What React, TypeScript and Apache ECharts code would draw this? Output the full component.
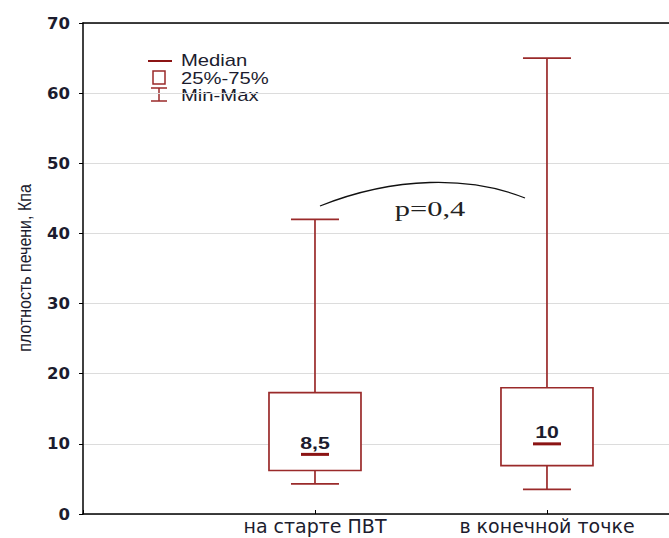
import React, { useEffect, useRef } from "react";
import * as echarts from "echarts";

// Liver stiffness (kPa): min, Q1, median, Q3, max per time point
const categories = ["на старте ПВТ", "в конечной точке"];
const positions = [1, 2];
const minValues = [4.3, 3.5];
const q1Values = [6.2, 6.9];
const medianValues = [8.5, 10];
const q3Values = [17.3, 18];
const maxValues = [42, 65];
const medianLabels = ["8,5", "10"];
const yTicks = [0, 10, 20, 30, 40, 50, 60, 70];
const pValueText = "p=0,4";
const yAxisTitle = "плотность печени, Кпа";
const legendLabels = ["Median", "25%-75%", "Min-Max"];

const BOX = "#9a2a2a";
const MEDIAN = "#8b1414";
const TEXT = "#1c1c2e";
const SANS = "'Liberation Sans', Arial, sans-serif";

export default function App() {
  const ref = useRef<HTMLDivElement>(null);

  useEffect(() => {
    document.body.style.margin = "0";
    if (!ref.current) return;
    const chart = echarts.init(ref.current, undefined, { renderer: "svg" });

    const data = positions.map((p, i) => [
      p,
      minValues[i],
      q1Values[i],
      medianValues[i],
      q3Values[i],
      maxValues[i],
      i,
    ]);

    const renderItem = (params: any, api: any) => {
      const x = api.value(0);
      const idx = api.value(6);
      const pMin = api.coord([x, api.value(1)]);
      const pQ1 = api.coord([x, api.value(2)]);
      const pMed = api.coord([x, api.value(3)]);
      const pQ3 = api.coord([x, api.value(4)]);
      const pMax = api.coord([x, api.value(5)]);
      const cx = pMed[0];
      const boxW = 92;
      const capW = 48;
      const medW = 28;
      const lineStyle = { stroke: BOX, lineWidth: 1.7, fill: "none" };
      return {
        type: "group",
        children: [
          { type: "line", shape: { x1: cx, y1: pMax[1], x2: cx, y2: pQ3[1] }, style: lineStyle },
          { type: "line", shape: { x1: cx, y1: pQ1[1], x2: cx, y2: pMin[1] }, style: lineStyle },
          { type: "line", shape: { x1: cx - capW / 2, y1: pMax[1], x2: cx + capW / 2, y2: pMax[1] }, style: lineStyle },
          { type: "line", shape: { x1: cx - capW / 2, y1: pMin[1], x2: cx + capW / 2, y2: pMin[1] }, style: lineStyle },
          {
            type: "rect",
            shape: { x: cx - boxW / 2, y: pQ3[1], width: boxW, height: pQ1[1] - pQ3[1] },
            style: { stroke: BOX, lineWidth: 1.7, fill: "#ffffff" },
          },
          {
            type: "line",
            shape: { x1: cx - medW / 2, y1: pMed[1], x2: cx + medW / 2, y2: pMed[1] },
            style: { stroke: MEDIAN, lineWidth: 3, fill: "none" },
          },
          {
            type: "text",
            x: cx,
            y: pMed[1] - 3,
            scaleX: 1.25,
            style: {
              x: 0,
              y: 0,
              text: medianLabels[idx],
              align: "center",
              verticalAlign: "bottom",
              font: `bold 17px ${SANS}`,
              fill: TEXT,
            },
          },
        ],
      };
    };

    const legendText = (label: string, y: number) => ({
      type: "text",
      x: 181,
      y,
      scaleX: 1.19,
      style: { x: 0, y: 0, text: label, verticalAlign: "middle", font: `17px ${SANS}`, fill: TEXT },
    });

    const option: any = {
      animation: false,
      grid: { left: 83, top: 23, right: 0, bottom: 24 },
      xAxis: [
        {
          type: "value",
          min: 0,
          max: 2.526,
          interval: 1,
          axisLine: { show: true, onZero: false, lineStyle: { color: "#000", width: 1.5 } },
          axisTick: { show: true, inside: true, length: 4, lineStyle: { color: "#000" } },
          splitLine: { show: false },
          axisLabel: {
            showMaxLabel: false,
            margin: 2,
            color: TEXT,
            fontSize: 19,
            fontFamily: "'DejaVu Sans', sans-serif",
            formatter: (v: number) => {
              const i = positions.findIndex((p) => Math.abs(v - p) < 1e-6);
              return i >= 0 ? categories[i] : "";
            },
          },
        },
        {
          type: "value",
          position: "top",
          min: 0,
          max: 2.526,
          axisLine: { show: true, onZero: false, lineStyle: { color: "#000", width: 1.5 } },
          axisTick: { show: false },
          axisLabel: { show: false },
          splitLine: { show: false },
        },
      ],
      yAxis: {
        type: "value",
        min: 0,
        max: 70,
        interval: 10,
        axisLine: { show: true, lineStyle: { color: "#000", width: 1.5 } },
        axisTick: { show: true, length: 4, lineStyle: { color: "#000" } },
        splitLine: { show: true, lineStyle: { color: "#dcdcdc", width: 1 } },
        axisLabel: {
          margin: 13,
          color: TEXT,
          fontSize: 16.5,
          fontWeight: "bold",
          fontFamily: "'DejaVu Sans', sans-serif",
          formatter: (v: number) => (yTicks.includes(v) ? String(v) : ""),
        },
      },
      series: [
        {
          type: "custom",
          renderItem,
          data,
          clip: false,
          encode: { x: 0, y: [1, 2, 3, 4, 5] },
        },
      ],
      graphic: [
        {
          type: "text",
          x: 25,
          y: 268,
          rotation: Math.PI / 2,
          scaleY: 1.15,
          style: {
            x: 0,
            y: 0,
            text: yAxisTitle,
            align: "center",
            verticalAlign: "middle",
            font: `16px ${SANS}`,
            fill: TEXT,
          },
        },
        // legend
        { type: "line", shape: { x1: 148, y1: 61, x2: 172, y2: 61 }, style: { stroke: MEDIAN, lineWidth: 2 } },
        { type: "rect", shape: { x: 153, y: 71, width: 12, height: 13 }, style: { stroke: BOX, lineWidth: 1.5, fill: "#fff" } },
        { type: "line", shape: { x1: 151, y1: 88, x2: 167, y2: 88 }, style: { stroke: BOX, lineWidth: 1.5 } },
        { type: "line", shape: { x1: 159, y1: 88, x2: 159, y2: 101 }, style: { stroke: BOX, lineWidth: 1.5 } },
        { type: "line", shape: { x1: 151, y1: 101, x2: 167, y2: 101 }, style: { stroke: BOX, lineWidth: 1.5 } },
        legendText(legendLabels[0], 60),
        legendText(legendLabels[1], 78),
        legendText(legendLabels[2], 95),
        // significance bracket
        {
          type: "bezierCurve",
          shape: { x1: 320, y1: 206, cpx1: 395, cpy1: 176, cpx2: 470, cpy2: 176, x2: 525, y2: 198 },
          style: { stroke: "#111", lineWidth: 1.3, fill: "none" },
        },
        {
          type: "text",
          x: 430,
          y: 209,
          scaleX: 1.45,
          style: {
            x: 0,
            y: 0,
            text: pValueText,
            align: "center",
            verticalAlign: "middle",
            font: "21px 'Liberation Serif', 'DejaVu Serif', serif",
            fill: "#222",
          },
        },
      ],
    };

    chart.setOption(option);
    return () => chart.dispose();
  }, []);

  return <div ref={ref} style={{ width: 669, height: 538 }} />;
}
